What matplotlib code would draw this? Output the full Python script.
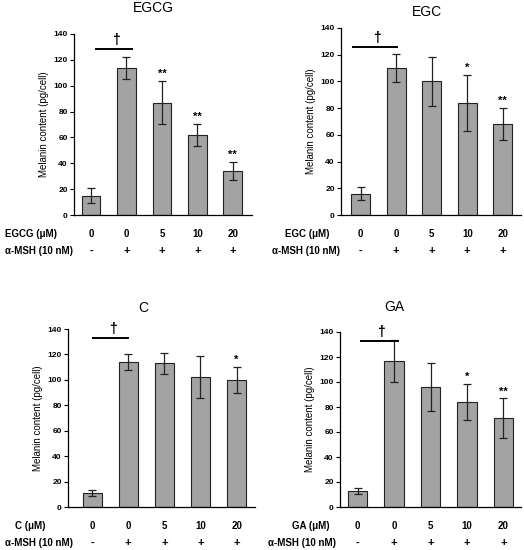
import numpy as np
import matplotlib
matplotlib.use('Agg')
import matplotlib.pyplot as plt

plt.rcParams['font.family'] = ['Liberation Sans', 'DejaVu Sans']

# 공통 x축 라벨
doses = ['0', '0', '5', '10', '20']
msh = ['-', '+', '+', '+', '+']

# 각 화합물별 멜라닌 함량 (pg/cell)
egcg_mean = [15, 114, 87, 62, 34]
egcg_err = [5.5, 8.5, 16.5, 8.5, 7]
egcg_sig = ['', '', '**', '**', '**']

egc_mean = [16, 110, 100, 84, 68]
egc_err = [5, 10.5, 18.5, 21, 12]
egc_sig = ['', '', '', '*', '**']

c_mean = [11, 114, 113, 102, 100]
c_err = [2.7, 6.5, 8, 16.5, 10]
c_sig = ['', '', '', '', '*']

ga_mean = [12.5, 117, 96, 84, 71]
ga_err = [2.4, 17, 19, 14.6, 16]
ga_sig = ['', '', '', '*', '**']

W, H = 524, 550
fig = plt.figure(figsize=(W / 100, H / 100), dpi=100)

# (name, mean, err, sig, axes px box l,t,r,b, xlim, label x px, msh label x px, title px, dagger line)
panels = [
    ('EGCG', egcg_mean, egcg_err, egcg_sig, (74, 34, 252, 215), (-0.48, 4.54), 5, 5, (153, 8), (0.15, 1.15), 128.6),
    ('EGC', egc_mean, egc_err, egc_sig, (341, 28, 521, 215), (-0.55, 4.51), 285, 272, (427, 12), (-0.2, 1.03), 126),
    ('C', c_mean, c_err, c_sig, (68, 329, 255, 507), (-0.67, 4.51), 15, 5, (143, 308), (0.03, 1.0), 132.7),
    ('GA', ga_mean, ga_err, ga_sig, (340, 332, 521, 507), (-0.48, 4.48), 292, 268, (394, 307), (0.1, 1.1), 133),
]

x = np.arange(len(doses))
for name, mean, err, sig, box, xlim, lx, mx, tpos, dline, dy in panels:
    l, t, r, b = box
    ax = fig.add_axes([l / W, 1 - b / H, (r - l) / W, (b - t) / H])
    ax.bar(x, mean, width=0.53, color='#a3a3a3', edgecolor='#222222', linewidth=0.8,
           yerr=err, error_kw=dict(ecolor='#222222', elinewidth=0.9, capsize=3, capthick=0.9))
    ax.set_xlim(*xlim)
    ax.set_ylim(0, 140)
    ax.set_yticks(range(0, 141, 20))
    ax.set_xticks([])
    for s in ['top', 'right']:
        ax.spines[s].set_visible(False)
    ax.spines['left'].set_linewidth(0.9)
    ax.spines['bottom'].set_linewidth(0.9)
    ax.tick_params(axis='y', direction='out', length=3, width=0.8, labelsize=6, pad=1.5)
    for lab in ax.get_yticklabels():
        lab.set_fontweight('bold')
    ax.set_ylabel('Melanin content (pg/cell)', fontsize=7, labelpad=3)

    # 유의성 표시
    for i in range(len(mean)):
        if sig[i]:
            ax.text(x[i], mean[i] + err[i] + 1.5, sig[i], ha='center', va='bottom',
                    fontsize=8, fontweight='bold')

    # α-MSH 대비 † 표시
    ax.plot(dline, [dy, dy], color='black', lw=1.4, clip_on=False)
    ax.text(np.mean(dline) + 0.05, dy + 1.5, '†', ha='center', va='bottom', fontsize=10, fontweight='bold')

    # 아래쪽 처리조건 표
    for i in range(len(doses)):
        ax.annotate(doses[i], xy=(x[i], 0), xycoords=('data', 'axes fraction'),
                    xytext=(0, -19), textcoords='offset pixels', ha='center', va='center',
                    fontsize=7, fontweight='bold', annotation_clip=False)
        ax.annotate(msh[i], xy=(x[i], 0), xycoords=('data', 'axes fraction'),
                    xytext=(0, -36), textcoords='offset pixels', ha='center', va='center',
                    fontsize=8, fontweight='bold', annotation_clip=False)
    fig.text(lx / W, 1 - (b + 19) / H, name + ' (\u03bcM)', ha='left', va='center',
             fontsize=7, fontweight='bold')
    fig.text(mx / W, 1 - (b + 36) / H, '\u03b1-MSH (10 nM)', ha='left', va='center',
             fontsize=7, fontweight='bold')

    fig.text(tpos[0] / W, 1 - tpos[1] / H, name, ha='center', va='center', fontsize=10)

fig.savefig('out.png', dpi=100)
